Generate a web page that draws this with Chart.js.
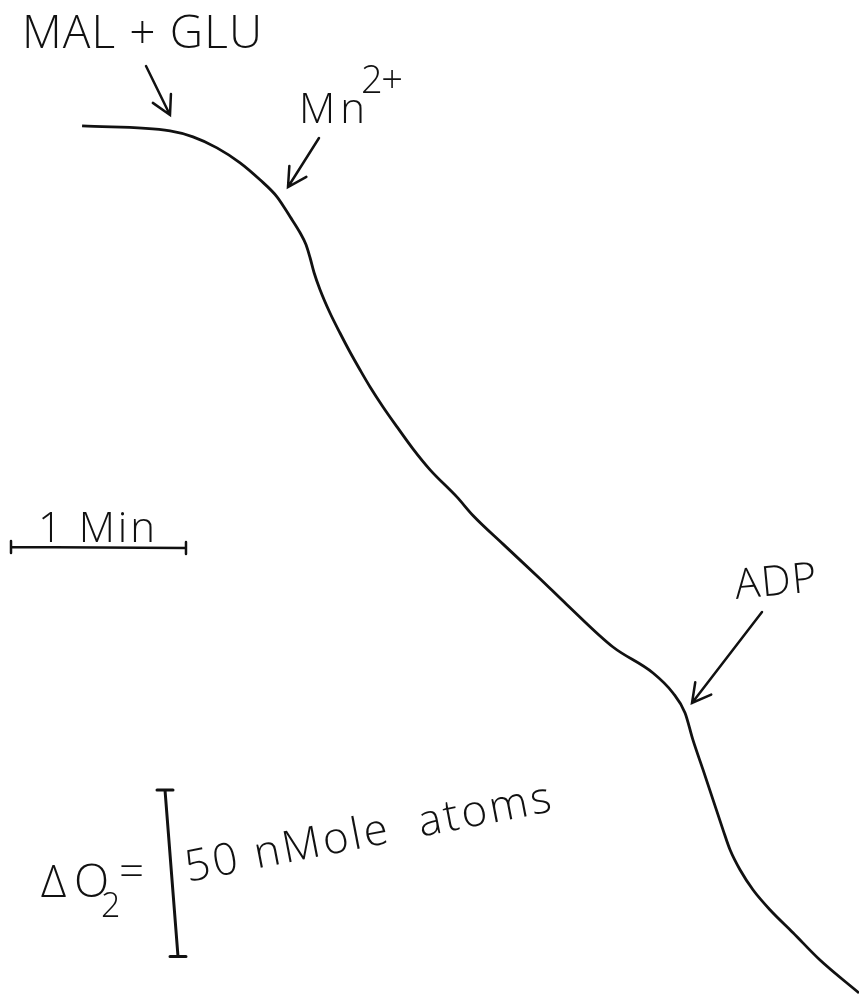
<!DOCTYPE html>
<html>
<head>
<meta charset="utf-8">
<script src="https://cdn.jsdelivr.net/npm/chart.js@4/dist/chart.umd.min.js"></script>
<style>
  html, body { margin: 0; padding: 0; background: #fff; }
  #wrap { width: 859px; height: 1002px; position: relative; }
</style>
</head>
<body>
<div id="wrap"><canvas id="trace"></canvas></div>
<script>
// oxygen electrode trace, time in min, O2 relative to start in nmol O
const times = [0, 0.503, 0.634, 0.771, 0.903, 1.017, 1.114, 1.189, 1.246, 1.280, 1.303, 1.326, 1.360,
  1.417, 1.474, 1.531, 1.589, 1.646, 1.720, 1.800, 1.891, 1.989, 2.143, 2.234, 2.406, 2.617, 2.771,
  3.034, 3.263, 3.377, 3.446, 3.491, 3.549, 3.606, 3.663, 3.703, 3.760, 3.834, 3.931, 4.063, 4.217, 4.440];
const oxygen = [0, -1.5, -3.3, -6.6, -11.1, -16.2, -21.3, -27.3, -32.1, -35.7, -39.6, -44.1, -49.2,
  -56.2, -62.2, -67.9, -73.3, -78.4, -84.4, -90.4, -97.0, -103.3, -111.5, -117.0, -125.6, -136.0, -143.8,
  -156.5, -164.3, -170.3, -176.3, -184.4, -193.4, -202.4, -211.4, -217.4, -223.4, -229.4, -235.4, -242.3, -250.5, -260.4];

const timeBar = 1;    // min
const oxygenBar = 50; // nmol O

const points = times.map((t, i) => ({ x: t, y: oxygen[i] }));

const FONT = "'Open Sans', 'DejaVu Sans', sans-serif";

function spaced(ctx, text, x, y, width, size, angle) {
  ctx.save();
  ctx.translate(x, y);
  if (angle) ctx.rotate(angle * Math.PI / 180);
  ctx.font = "300 " + size + "px " + FONT;
  ctx.letterSpacing = "0px";
  const w = ctx.measureText(text).width;
  const ls = text.length > 1 ? (width - w) / (text.length - 1) : 0;
  ctx.letterSpacing = ls + "px";
  ctx.textBaseline = "alphabetic";
  ctx.fillText(text, 0, 0);
  ctx.restore();
}

function arrow(ctx, x1, y1, x2, y2) {
  const a = Math.atan2(y2 - y1, x2 - x1);
  const h = 21;
  ctx.beginPath();
  ctx.moveTo(x1, y1);
  ctx.lineTo(x2, y2);
  ctx.moveTo(x2 - h * Math.cos(a - 0.5), y2 - h * Math.sin(a - 0.5));
  ctx.lineTo(x2, y2);
  ctx.lineTo(x2 - h * Math.cos(a + 0.5), y2 - h * Math.sin(a + 0.5));
  ctx.stroke();
}

const annotations = {
  id: "annotations",
  afterDraw(chart) {
    const ctx = chart.ctx;
    const xs = chart.scales.x, ys = chart.scales.y;
    ctx.save();
    ctx.fillStyle = "#111";
    ctx.strokeStyle = "#111";
    ctx.lineWidth = 2.5;
    ctx.lineCap = "round";

    // additions
    spaced(ctx, "MAL + GLU", 22, 48, 240, 46);
    arrow(ctx, 146, 66, 170, 115);
    spaced(ctx, "Mn", 299, 123, 66, 42);
    spaced(ctx, "2+", 361, 93, 42, 38);
    arrow(ctx, 319, 138, 288, 187);
    spaced(ctx, "ADP", 736, 599, 82, 42, -5.5);
    arrow(ctx, 762, 612, 692, 703);

    // time scale bar
    const x0 = 11, x1 = x0 + xs.getPixelForValue(timeBar) - xs.getPixelForValue(0);
    ctx.beginPath();
    ctx.moveTo(x0, 547); ctx.lineTo(x1, 548);
    ctx.moveTo(x0, 541); ctx.lineTo(x0, 553);
    ctx.moveTo(x1, 542); ctx.lineTo(x1, 554);
    ctx.stroke();
    spaced(ctx, "1 Min", 38, 542, 117, 42);

    // oxygen scale bar
    const len = ys.getPixelForValue(0) - ys.getPixelForValue(oxygenBar);
    const top = 790, bx0 = 165, bx1 = 178;
    ctx.lineWidth = 3;
    ctx.beginPath();
    ctx.moveTo(bx0, top); ctx.lineTo(bx1, top + len);
    ctx.moveTo(bx0 - 8, top); ctx.lineTo(bx0 + 8, top);
    ctx.moveTo(bx1 - 8, top + len); ctx.lineTo(bx1 + 8, top + len);
    ctx.stroke();
    spaced(ctx, "\u0394", 41, 897, 24, 44);
    spaced(ctx, "O", 74, 897, 24, 46);
    spaced(ctx, "2", 101, 917, 17, 34);
    spaced(ctx, "=", 119, 886, 24, 44);
    spaced(ctx, "50 nMole  atoms", 188, 882, 372, 44, -11);
    ctx.restore();
  }
};

new Chart(document.getElementById("trace"), {
  type: "line",
  data: {
    datasets: [{
      data: points,
      borderColor: "#111",
      borderWidth: 2.8,
      pointRadius: 0,
      fill: false,
      cubicInterpolationMode: "monotone"
    }]
  },
  options: {
    responsive: true,
    maintainAspectRatio: false,
    animation: false,
    layout: { padding: 0 },
    plugins: { legend: { display: false }, tooltip: { enabled: false } },
    scales: {
      x: { type: "linear", min: -0.469, max: 4.44, display: false },
      y: { type: "linear", min: -263.1, max: 37.8, display: false }
    }
  },
  plugins: [annotations]
});
</script>
</body>
</html>
